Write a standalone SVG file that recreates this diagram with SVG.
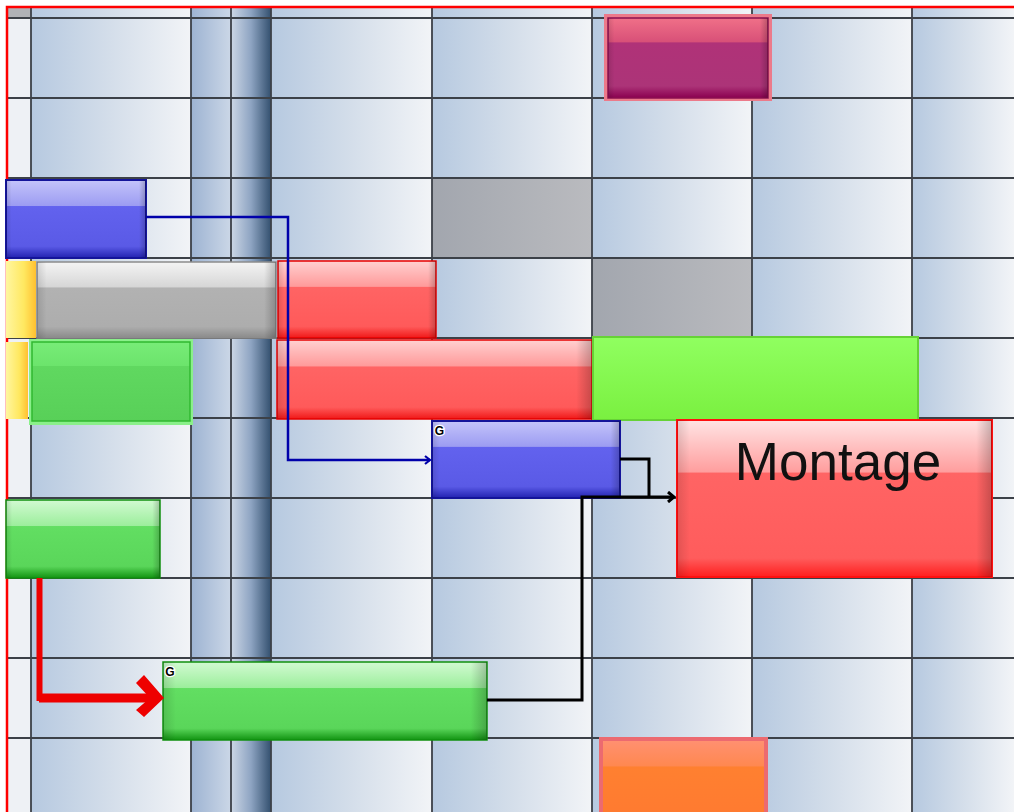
<svg xmlns="http://www.w3.org/2000/svg" width="1014" height="812" viewBox="0 0 1014 812">
<defs>
<linearGradient id="cell" x1="0" y1="0" x2="1" y2="0"><stop offset="0" stop-color="#b6c9e0"/><stop offset="0.5" stop-color="#d4deea"/><stop offset="1" stop-color="#f2f4f7"/></linearGradient>
<linearGradient id="colA" x1="0" y1="0" x2="1" y2="0"><stop offset="0" stop-color="#9db3d2"/><stop offset="1" stop-color="#cbd7e7"/></linearGradient>
<linearGradient id="colB" x1="0" y1="0" x2="1" y2="0"><stop offset="0" stop-color="#ccd7e6"/><stop offset="0.5" stop-color="#8ea4c2"/><stop offset="1" stop-color="#33506f"/></linearGradient>
<linearGradient id="grayCell" x1="0" y1="0" x2="1" y2="0"><stop offset="0" stop-color="#a2a6ae"/><stop offset="1" stop-color="#babbbf"/></linearGradient>
<linearGradient id="gBlue" x1="0" y1="0" x2="0" y2="1"><stop offset="0" stop-color="#c4c4fa"/><stop offset="0.33" stop-color="#9c9cf2"/><stop offset="0.34" stop-color="#6262ee"/><stop offset="0.85" stop-color="#5a5ae6"/><stop offset="1" stop-color="#2222b0"/></linearGradient>
<linearGradient id="gRed" x1="0" y1="0" x2="0" y2="1"><stop offset="0" stop-color="#ffd0d0"/><stop offset="0.33" stop-color="#ff9a9a"/><stop offset="0.34" stop-color="#ff6464"/><stop offset="0.85" stop-color="#ff5a5a"/><stop offset="1" stop-color="#f01818"/></linearGradient>
<linearGradient id="gGreen" x1="0" y1="0" x2="0" y2="1"><stop offset="0" stop-color="#d2fad2"/><stop offset="0.33" stop-color="#9cee9c"/><stop offset="0.34" stop-color="#62de62"/><stop offset="0.85" stop-color="#5ad65a"/><stop offset="1" stop-color="#129412"/></linearGradient>
<linearGradient id="gGreen2" x1="0" y1="0" x2="0" y2="1"><stop offset="0" stop-color="#78ec78"/><stop offset="0.3" stop-color="#6ce46c"/><stop offset="0.31" stop-color="#60d860"/><stop offset="1" stop-color="#58d058"/></linearGradient>
<linearGradient id="gGray" x1="0" y1="0" x2="0" y2="1"><stop offset="0" stop-color="#f4f4f4"/><stop offset="0.33" stop-color="#d6d6d6"/><stop offset="0.34" stop-color="#b2b2b2"/><stop offset="0.85" stop-color="#adadad"/><stop offset="1" stop-color="#8a8a8a"/></linearGradient>
<linearGradient id="gLime" x1="0" y1="0" x2="0" y2="1"><stop offset="0" stop-color="#90ff60"/><stop offset="1" stop-color="#7af040"/></linearGradient>
<linearGradient id="gPurple" x1="0" y1="0" x2="0" y2="1"><stop offset="0" stop-color="#f07088"/><stop offset="0.3" stop-color="#d85078"/><stop offset="0.31" stop-color="#b03278"/><stop offset="0.85" stop-color="#ac3478"/><stop offset="1" stop-color="#8a0050"/></linearGradient>
<linearGradient id="gOrange" x1="0" y1="0" x2="0" y2="1"><stop offset="0" stop-color="#ff9070"/><stop offset="0.33" stop-color="#ff8850"/><stop offset="0.34" stop-color="#ff8030"/><stop offset="1" stop-color="#ff7a30"/></linearGradient>
<linearGradient id="gYellow" x1="0" y1="0" x2="1" y2="0"><stop offset="0" stop-color="#fff6a0"/><stop offset="0.6" stop-color="#ffe860"/><stop offset="1" stop-color="#ffc030"/></linearGradient>
<linearGradient id="gMont" x1="0" y1="0" x2="0" y2="1"><stop offset="0" stop-color="#ffe4e4"/><stop offset="0.33" stop-color="#ff9e9e"/><stop offset="0.34" stop-color="#ff6464"/><stop offset="0.88" stop-color="#ff5c5c"/><stop offset="1" stop-color="#ff1e1e"/></linearGradient>
<linearGradient id="edge" x1="0" y1="0" x2="1" y2="0"><stop offset="0" stop-color="#000" stop-opacity="0.12"/><stop offset="0.04" stop-color="#000" stop-opacity="0"/><stop offset="0.95" stop-color="#000" stop-opacity="0"/><stop offset="1" stop-color="#000" stop-opacity="0.22"/></linearGradient>
<marker id="arrBlue" markerWidth="10" markerHeight="10" refX="8" refY="5" orient="auto" markerUnits="userSpaceOnUse"><path d="M3 1 L8 5 L3 9" fill="none" stroke="#0000aa" stroke-width="2.2"/></marker>
<marker id="arrBlack" markerWidth="12" markerHeight="12" refX="10" refY="6" orient="auto" markerUnits="userSpaceOnUse"><path d="M4 1 L10 6 L4 11" fill="none" stroke="#000" stroke-width="3"/></marker>
</defs>
<style>
.grid{stroke:#3c4148;stroke-width:1.8;fill:none}
.edge{fill:url(#edge)}
.lbl{font-family:"Liberation Sans",Arial,sans-serif}
.g{font-family:"Liberation Sans",Arial,sans-serif;font-weight:bold;font-size:12px;fill:#000;stroke:#fff;stroke-width:2.5;paint-order:stroke}
</style>
<rect x="0" y="0" width="1014" height="812" fill="#ffffff"/>
<g id="background">
<rect x="6" y="6" width="25" height="806" fill="#eef1f5"/>
<rect x="31" y="6" width="160" height="806" fill="url(#cell)"/>
<rect x="191" y="6" width="40" height="806" fill="url(#colA)"/>
<rect x="231" y="6" width="40" height="806" fill="url(#colB)"/>
<rect x="271" y="6" width="161" height="806" fill="url(#cell)"/>
<rect x="432" y="6" width="160" height="806" fill="url(#cell)"/>
<rect x="592" y="6" width="160" height="806" fill="url(#cell)"/>
<rect x="752" y="6" width="160" height="806" fill="url(#cell)"/>
<rect x="912" y="6" width="102" height="806" fill="url(#cell)"/>
<rect x="6" y="6" width="25" height="12" fill="#b0b2b6"/>
<rect x="432" y="178" width="160" height="80" fill="url(#grayCell)"/>
<rect x="592" y="258" width="160" height="80" fill="url(#grayCell)"/>
<path class="grid" d="M31 6V812M191 6V812M231 6V812M271 6V812M432 6V812M592 6V812M752 6V812M912 6V812M6 18H1014M6 98H1014M6 178H1014M6 258H1014M6 338H1014M6 418H1014M6 498H1014M6 578H1014M6 658H1014M6 738H1014"/>
<path d="M7 812V7H1014" fill="none" stroke="#ff0000" stroke-width="2.5"/>
</g>
<g id="bar-purple">
<rect x="604" y="14" width="168" height="87" fill="#ec7a8a"/>
<rect x="608" y="18" width="160" height="80" fill="url(#gPurple)" stroke="#8a1050" stroke-width="1.5"/>
<rect x="608" y="18" width="160" height="80" class="edge"/>
</g>
<g id="bar-blue-top">
<rect x="6" y="180" width="140" height="78" fill="url(#gBlue)" stroke="#14149a" stroke-width="2"/>
<rect x="6" y="180" width="140" height="78" class="edge"/>
</g>
<g id="bar-yellow-1">
<rect x="6" y="261" width="30" height="77" fill="url(#gYellow)"/>
</g>
<g id="bar-yellow-2">
<rect x="6" y="342" width="22" height="77" fill="url(#gYellow)"/>
</g>
<g id="bar-gray">
<rect x="37" y="262" width="239" height="76" fill="url(#gGray)" stroke="#8c8c8c" stroke-width="1.5"/>
<rect x="37" y="262" width="239" height="76" class="edge"/>
</g>
<g id="bar-red-1">
<rect x="278" y="261" width="158" height="77" fill="url(#gRed)" stroke="#e60000" stroke-width="1.5"/>
<rect x="278" y="261" width="158" height="77" class="edge"/>
</g>
<g id="bar-green-1">
<rect x="29" y="339" width="164" height="86" fill="#8af08a"/>
<rect x="32" y="342" width="158" height="79" fill="url(#gGreen2)" stroke="#30b830" stroke-width="1.5"/>
</g>
<g id="bar-red-2">
<rect x="277" y="340" width="315" height="79" fill="url(#gRed)" stroke="#e60000" stroke-width="1.5"/>
<rect x="277" y="340" width="315" height="79" class="edge"/>
</g>
<g id="bar-lime">
<rect x="593" y="337" width="325" height="83" fill="url(#gLime)" stroke="#66d236" stroke-width="2"/>
</g>
<g id="bar-blue-g">
<rect x="432" y="421" width="188" height="77" fill="url(#gBlue)" stroke="#14149a" stroke-width="2"/>
<rect x="432" y="421" width="188" height="77" class="edge"/>
<text class="g" x="439.5" y="435" text-anchor="middle">G</text>
</g>
<g id="bar-montage">
<rect x="677" y="420" width="315" height="157" fill="url(#gMont)" stroke="#ff1010" stroke-width="2"/>
<rect x="677" y="420" width="315" height="157" class="edge"/>
<text class="lbl" x="838" y="480" font-size="53" text-anchor="middle" fill="#111">Montage</text>
</g>
<g id="bar-green-left">
<rect x="6" y="500" width="154" height="78" fill="url(#gGreen)" stroke="#10900f" stroke-width="1.5"/>
<rect x="6" y="500" width="154" height="78" class="edge"/>
</g>
<g id="bar-green-g">
<rect x="163" y="662" width="324" height="78" fill="url(#gGreen)" stroke="#10900f" stroke-width="1.5"/>
<rect x="163" y="662" width="324" height="78" class="edge"/>
<text class="g" x="170" y="676" text-anchor="middle">G</text>
</g>
<g id="bar-orange">
<rect x="599" y="737" width="169" height="80" fill="#ec6a70"/>
<rect x="603" y="741" width="161" height="76" fill="url(#gOrange)"/>
</g>
<g id="connectors">
<path d="M146 217H288V460H430" fill="none" stroke="#0000aa" stroke-width="2.5" marker-end="url(#arrBlue)"/>
<path d="M620 459H649V497" fill="none" stroke="#000" stroke-width="3"/>
<path d="M487 700H582V497H674" fill="none" stroke="#000" stroke-width="3" marker-end="url(#arrBlack)"/>
<path d="M39.5 578V698H150" fill="none" stroke="#ee0000" stroke-width="6"/>
<path d="M39.5 693V703H150" fill="none" stroke="#ee0000" stroke-width="0"/>
<rect x="39" y="693.5" width="112" height="9" fill="#ee0000"/>
<polygon points="136,683 144,675 164,698 144,717 136,710 150,698" fill="#ee0000"/>
</g>
</svg>
